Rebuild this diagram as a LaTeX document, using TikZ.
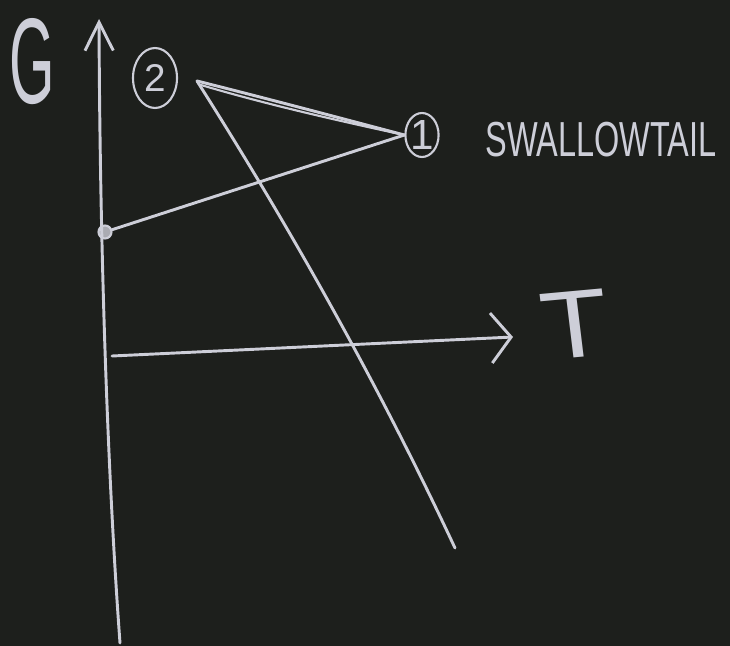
\documentclass[tikz,border=0pt]{standalone}
\usepackage{fontspec}
\setmainfont{Liberation Sans}
\usetikzlibrary{arrows.meta,shapes.geometric}
\definecolor{board}{RGB}{29,31,28}
\definecolor{chalk}{RGB}{205,206,216}
\tikzset{
  chalkline/.style={draw=chalk, line width=2.5pt, line cap=round, line join=round},
  thinchalk/.style={draw=chalk, line width=1.8pt, line cap=round},
  chalktext/.style={text=chalk, inner sep=0pt},
  ringnode/.style={ellipse, draw=chalk, line width=1.8pt, text=chalk, inner sep=0pt},
  dotnode/.style={circle, draw=chalk, fill=chalk!80!board, line width=1.8pt, inner sep=0pt, minimum size=13*0.03cm}
}
\begin{document}
\begin{tikzpicture}[x=0.03cm, y=-0.03cm]
\useasboundingbox (0,0) rectangle (730,646);
\fill[board] (0,0) rectangle (730,646);

% coordinates
\coordinate (Gbot) at (120,643);
\coordinate (Gtop) at (99,19);
\coordinate (Tstart) at (112,356);
\coordinate (Tend) at (513,337);
\coordinate (P2) at (197,81);
\coordinate (P2b) at (201,85);
\coordinate (Dend) at (455,548);

% labels
\node[chalktext, xscale=0.48] (G) at (32,62) {\fontsize{104}{110}\selectfont G};
\node[ringnode, minimum width=44*0.03cm, minimum height=60*0.03cm] (c2) at (155,78) {\fontsize{33}{38}\selectfont 2};
\node[ringnode, minimum width=28*0.03cm, minimum height=44*0.03cm] (c1) at (422,135) {\fontsize{36}{40}\selectfont 1};
\node[chalktext, xscale=0.66] (swt) at (601,140) {\fontsize{42}{48}\selectfont SWALLOWTAIL};
\node[chalktext, xscale=1.15, rotate=6] (T) at (575,325) {\fontsize{82}{90}\selectfont T};
\node[dotnode] (PA) at (105,232) {};

% G axis
\draw[chalkline, -{Straight Barb[length=0.85cm, width=0.85cm]}] (Gbot) .. controls (108,480) and (100,260) .. (Gtop);
% T axis
\draw[chalkline, -{Straight Barb[length=0.6cm, width=1.5cm]}] (Tstart) -- (Tend);

% swallowtail
\draw[chalkline] (P2) .. controls (265,98) and (340,118) .. (c1.west);
\draw[thinchalk] (P2b) .. controls (265,104) and (335,120) .. (c1.west);
\draw[chalkline] (PA) -- (c1.west);
\draw[chalkline] (P2) .. controls (296,237) and (382,392) .. (Dend);
\end{tikzpicture}
\end{document}
